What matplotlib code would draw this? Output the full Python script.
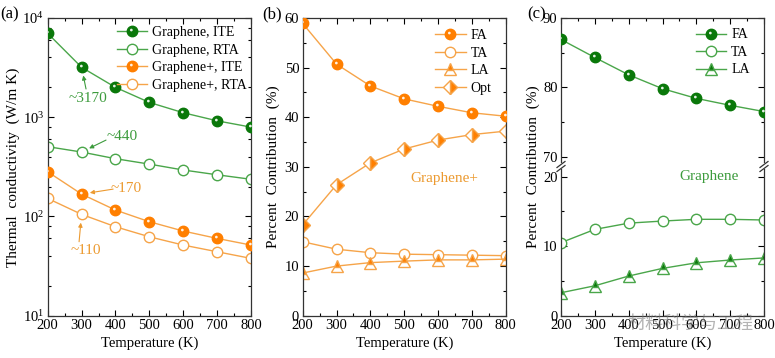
import numpy as np
import matplotlib
matplotlib.use("Agg")
import matplotlib.pyplot as plt
from matplotlib.path import Path
from matplotlib.legend_handler import HandlerTuple
from matplotlib.ticker import MultipleLocator, LogLocator, NullFormatter

plt.rcParams['font.family'] = ['Liberation Serif', 'DejaVu Serif']
plt.rcParams['mathtext.fontset'] = 'stix'

# ---------------- data ----------------
T = [200, 300, 400, 500, 600, 700, 800]
# (a) thermal conductivity (W/mK)
g_ite = [7000, 3185, 2000, 1410, 1110, 920, 795]
g_rta = [505, 446, 382, 337, 294, 263, 237]
gp_ite = [282, 168, 116, 88.5, 71.3, 60.1, 51.5]
gp_rta = [152, 105, 78.8, 62.4, 51.5, 44.1, 37.8]
# (b) Graphene+ percent contribution
b_fa = [58.9, 50.7, 46.3, 43.7, 42.2, 40.9, 40.2]
b_ta = [14.9, 13.4, 12.7, 12.4, 12.3, 12.2, 12.1]
b_la = [8.6, 10.0, 10.7, 11.0, 11.25, 11.25, 11.4]
b_opt = [18.3, 26.4, 30.8, 33.6, 35.4, 36.5, 37.2]
# (c) Graphene percent contribution
c_fa = [86.9, 84.3, 81.8, 79.8, 78.4, 77.4, 76.5]
c_ta = [10.5, 12.4, 13.3, 13.6, 13.85, 13.85, 13.75]
c_la = [3.3, 4.3, 5.7, 6.8, 7.6, 8.0, 8.3]

xticks = [200, 300, 400, 500, 600, 700, 800]

# ---------------- styles ----------------
GF = '#0a780a'   # green fill
GL = '#4aa64a'   # green line
GT = '#3c9b3c'   # green text
OF = '#ff7f00'   # orange fill
OL = '#f6a449'   # orange line
OT = '#ec9a30'   # orange text
MS = 7.5

# highlight marker: small circle offset toward upper-left within ball marker frame
_hl = Path.circle(center=(-0.22, 0.28), radius=0.26)
_frame = Path([(1, 0), (-1, 0), (0, 1), (0, -1)],
              [Path.MOVETO, Path.MOVETO, Path.MOVETO, Path.MOVETO])
HL = Path.make_compound_path(_frame, _hl)

fig = plt.figure(figsize=(7.75, 3.58), dpi=100)
H = 358.0
W = 775.0


def axpos(left, right, top, bottom):
    return [left / W, 1 - bottom / H, (right - left) / W, (bottom - top) / H]


def ball(ax, x, y, fill, line, label=None):
    l1, = ax.plot(x, y, '-o', color=line, lw=1.0, mfc=fill, mec=fill, ms=MS, zorder=3)
    l2, = ax.plot(x, y, linestyle='none', marker=HL, ms=MS, mfc='white', mec='none',
                  alpha=0.9, zorder=4)
    return (l1, l2)


def style(ax, xlabel=True):
    ax.tick_params(which='both', direction='in', top=True, right=True,
                   labelsize=10.5, width=0.8)
    ax.tick_params(which='major', length=4, pad=2.5)
    ax.tick_params(which='minor', length=2)
    for s in ax.spines.values():
        s.set_linewidth(0.9)
        s.set_color('#333333')
    ax.set_xlim(200, 800)
    ax.set_xticks(xticks)
    ax.xaxis.set_minor_locator(MultipleLocator(50))
    if xlabel:
        ax.set_xlabel('Temperature (K)', fontsize=10.5, labelpad=3)


# ---------------- (a) ----------------
axa = fig.add_axes(axpos(47.7, 251, 18, 315.7))
style(axa)
axa.set_yscale('log')
axa.set_ylim(10, 1e4)
axa.yaxis.set_minor_locator(LogLocator(base=10, subs=(2, 4, 6, 8)))
axa.yaxis.set_minor_formatter(NullFormatter())
h1 = ball(axa, T, g_ite, GF, GL)
h2, = axa.plot(T, g_rta, '-o', color=GL, lw=1.0, mfc='white', mec=GL, ms=MS, mew=1.0)
h3 = ball(axa, T, gp_ite, OF, OL)
h4, = axa.plot(T, gp_rta, '-o', color=OL, lw=1.0, mfc='white', mec=OL, ms=MS, mew=1.0)
axa.set_ylabel('Thermal  conductivity  (W/m K)', fontsize=11, labelpad=2)
leg = axa.legend([h1, h2, h3, h4],
                 ['Graphene, ITE', 'Graphene, RTA', 'Graphene+, ITE', 'Graphene+, RTA'],
                 handler_map={tuple: HandlerTuple(ndivide=1)},
                 loc='upper right', bbox_to_anchor=(1.02, 1.0), frameon=False,
                 fontsize=10, handlelength=2.2, handletextpad=0.35,
                 labelspacing=0.32, borderaxespad=0.2, numpoints=1)

apk = dict(arrowstyle='-|>', lw=0.8, mutation_scale=6, shrinkA=0)
# ~3170
axa.annotate('', xy=(T[1], g_ite[1]), xytext=(3.2, -15.6), textcoords='offset points',
             arrowprops=dict(apk, color=GT, shrinkB=6))
axa.annotate('~3170', xy=(T[1], g_ite[1]), xytext=(4.7, -22.8), textcoords='offset points',
             ha='center', va='center', fontsize=11, color=GT)
# ~440
axa.annotate('', xy=(T[1], g_rta[1]), xytext=(17.6, 8.6), textcoords='offset points',
             arrowprops=dict(apk, color=GT, shrinkB=6))
axa.annotate('~440', xy=(T[1], g_rta[1]), xytext=(29.5, 11.5), textcoords='offset points',
             ha='center', va='center', fontsize=11, color=GT)
# ~170
axa.annotate('', xy=(T[1], gp_ite[1]), xytext=(22.7, 3.6), textcoords='offset points',
             arrowprops=dict(apk, color=OT, shrinkB=6))
axa.annotate('~170', xy=(T[1], gp_ite[1]), xytext=(32, 4.1), textcoords='offset points',
             ha='center', va='center', fontsize=11, color=OT)
# ~110
axa.annotate('', xy=(T[1], gp_rta[1]), xytext=(-1.8, -19.7), textcoords='offset points',
             arrowprops=dict(apk, color=OT, shrinkB=6))
axa.annotate('~110', xy=(T[1], gp_rta[1]), xytext=(3.2, -25.7), textcoords='offset points',
             ha='center', va='center', fontsize=11, color=OT)

# ---------------- (b) ----------------
axb = fig.add_axes(axpos(302.7, 505.7, 18, 315.7))
style(axb)
axb.set_ylim(0, 60)
axb.yaxis.set_major_locator(MultipleLocator(10))
axb.yaxis.set_minor_locator(MultipleLocator(5))
hb1 = ball(axb, T, b_fa, OF, OL)
hb2, = axb.plot(T, b_ta, '-o', color=OL, lw=1.0, mfc='white', mec=OL, ms=MS, mew=1.0)
hb3, = axb.plot(T, b_la, '-^', color=OL, lw=1.0, mfc=OF, mfcalt='white', mec=OL,
                fillstyle='top', ms=MS + 0.5, mew=1.0)
hb4, = axb.plot(T, b_opt, '-D', color=OL, lw=1.0, mfc=OF, mfcalt='white', mec=OL,
                fillstyle='right', ms=MS - 0.5, mew=1.0)
axb.set_ylabel('Percent  Contribution  (%)', fontsize=11, labelpad=3)
axb.legend([hb1, hb2, hb3, hb4], ['FA', 'TA', 'LA', 'Opt'],
           handler_map={tuple: HandlerTuple(ndivide=1)},
           loc='upper right', bbox_to_anchor=(0.97, 0.99), frameon=False,
           fontsize=10, handlelength=2.2, handletextpad=0.35,
           labelspacing=0.32, borderaxespad=0.2, numpoints=1)
axb.text(0.7, 0.46, 'Graphene+', transform=axb.transAxes, ha='center', va='center',
         fontsize=11, color=OT)

# ---------------- (c) ----------------
axct = fig.add_axes(axpos(561, 764, 18, 162))
axcb = fig.add_axes(axpos(561, 764, 169, 315.7))
style(axct, xlabel=False)
style(axcb)
axct.set_ylim(69.22, 90)
axcb.set_ylim(0, 21.08)
for a in (axct, axcb):
    a.yaxis.set_major_locator(MultipleLocator(10))
    a.yaxis.set_minor_locator(MultipleLocator(5))
axct.spines['bottom'].set_visible(False)
axcb.spines['top'].set_visible(False)
axct.tick_params(which='both', bottom=False, labelbottom=False)
axcb.tick_params(which='both', top=False)
hc1 = ball(axct, T, c_fa, GF, GL)
hc2, = axcb.plot(T, c_ta, '-o', color=GL, lw=1.0, mfc='white', mec=GL, ms=MS, mew=1.0)
hc3, = axcb.plot(T, c_la, '-^', color=GL, lw=1.0, mfc=GF, mfcalt='white', mec=GL,
                 fillstyle='top', ms=MS + 0.5, mew=1.0)
axct.legend([hc1, hc2, hc3], ['FA', 'TA', 'LA'],
            handler_map={tuple: HandlerTuple(ndivide=1)},
            loc='upper right', bbox_to_anchor=(0.97, 0.985), frameon=False,
            fontsize=10, handlelength=2.2, handletextpad=0.35,
            labelspacing=0.32, borderaxespad=0.2, numpoints=1)
axcb.text(0.73, 0.95, 'Graphene', transform=axcb.transAxes, ha='center', va='center',
          fontsize=11, color=GT)
fig.text(533 / W, 1 - 167 / H, 'Percent  Contribution  (%)', rotation=90,
         ha='center', va='center', fontsize=11)

# break marks
bk = dict(color='#333333', lw=0.9, clip_on=False, transform=fig.transFigure)
for xpx in (561, 764):
    for ypx in (164.5, 168.5):
        fig.add_artist(plt.Line2D([(xpx - 4) / W, (xpx + 4) / W],
                                  [1 - (ypx + 3) / H, 1 - (ypx - 3) / H], **bk))

# panel labels
fig.text(0 / W, 1 - 14 / H, '(a)', fontsize=12, va='center', ha='left')
fig.text(262 / W, 1 - 14 / H, '(b)', fontsize=12, va='center', ha='left')
fig.text(527 / W, 1 - 14 / H, '(c)', fontsize=12, va='center', ha='left')

# watermark
fig.text(690 / W, 1 - 324 / H, '材料科学与工程', fontsize=13,
         family=['Noto Sans CJK SC', 'DejaVu Sans'], color='#777777', alpha=0.55,
         ha='center', va='center')

fig.savefig('out.png', dpi=100)
